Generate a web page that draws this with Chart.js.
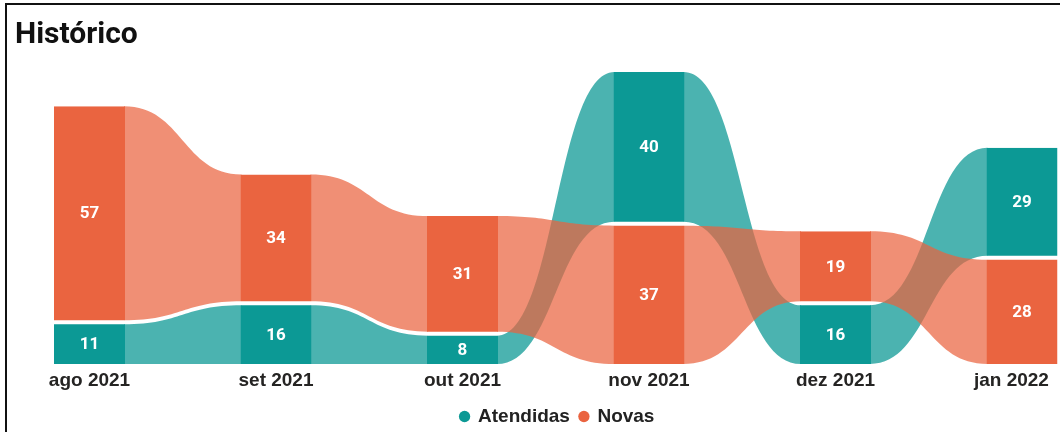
<!DOCTYPE html>
<html><head><meta charset="utf-8">
<script src="https://cdn.jsdelivr.net/npm/chart.js@4/dist/chart.umd.min.js"></script>
<style>
html,body{margin:0;padding:0;background:#fff;}
#wrap{position:relative;width:1060px;height:432px;overflow:hidden;}
#frame{position:absolute;left:5px;top:3px;width:1100px;height:500px;border-top:2px solid #111;border-left:2px solid #111;pointer-events:none;}
canvas{position:absolute;left:0;top:0;}
</style></head><body>
<div id="wrap"><canvas id="c" width="1060" height="432"></canvas><div id="frame"></div></div>
<script>
const categories = ['ago 2021','set 2021','out 2021','nov 2021','dez 2021','jan 2022'];
const atendidas = [11, 16, 8, 40, 16, 29];
const novas = [57, 34, 31, 37, 19, 28];
const seriesNames = ['Atendidas', 'Novas'];
const barColors = ['#0C9995', '#EA6440'];
const ribbonColors = ['rgba(12,153,149,0.74)', 'rgba(234,100,64,0.72)'];
const GAP = 4;

const seriesValues = [atendidas, novas];
const totals = categories.map((_, i) => seriesValues.reduce((s, v) => s + v[i], 0));
const maxTotal = Math.max(...totals);
// ribbon ranking: larger value stacked on top
const ranges = seriesValues.map(() => []);
categories.forEach((_, i) => {
  const order = seriesValues.map((v, s) => s).sort((a, b) => seriesValues[a][i] - seriesValues[b][i]);
  let base = 0;
  order.forEach(s => { const v = seriesValues[s][i]; ranges[s][i] = [base, base + v]; base += v; });
});

function edges(s, i, yScale) {
  const r = ranges[s][i];
  const top = yScale.getPixelForValue(r[1]) + (r[1] < totals[i] ? GAP / 2 : 0);
  const bot = yScale.getPixelForValue(r[0]) - (r[0] > 0 ? GAP / 2 : 0);
  return [top, bot];
}

const ribbonPlugin = {
  id: 'ribbons',
  afterLayout(chart) {
    if (chart.legend) { chart.legend.left += 40; }
  },
  beforeDatasetsDraw(chart) {
    const ctx = chart.ctx, y = chart.scales.y;
    seriesNames.forEach((_, s) => {
      const meta = chart.getDatasetMeta(s);
      ctx.save();
      ctx.fillStyle = ribbonColors[s];
      for (let i = 0; i < categories.length - 1; i++) {
        const a = meta.data[i], b = meta.data[i + 1];
        const x0 = a.x + a.width / 2 - 1, x1 = b.x - b.width / 2 + 1, xm = (x0 + x1) / 2;
        const [t0, b0] = edges(s, i, y), [t1, b1] = edges(s, i + 1, y);
        ctx.beginPath();
        ctx.moveTo(x0, t0);
        ctx.bezierCurveTo(xm, t0, xm, t1, x1, t1);
        ctx.lineTo(x1, b1);
        ctx.bezierCurveTo(xm, b1, xm, b0, x0, b0);
        ctx.closePath();
        ctx.fill();
      }
      ctx.restore();
    });
  },
  afterDatasetsDraw(chart) {
    const ctx = chart.ctx, y = chart.scales.y;
    ctx.save();
    ctx.font = 'bold 17px Roboto';
    ctx.fillStyle = '#ffffff';
    ctx.textAlign = 'center';
    ctx.textBaseline = 'middle';
    seriesNames.forEach((_, s) => {
      const meta = chart.getDatasetMeta(s);
      meta.data.forEach((el, i) => {
        const [t, b] = edges(s, i, y);
        ctx.fillText(String(seriesValues[s][i]), el.x, (t + b) / 2 + 1);
      });
    });
    ctx.restore();
  }
};

new Chart(document.getElementById('c'), {
  type: 'bar',
  data: {
    labels: categories,
    datasets: seriesNames.map((name, s) => ({
      label: name,
      data: ranges[s],
      backgroundColor: barColors[s],
      borderColor: '#ffffff',
      borderSkipped: false,
      borderWidth: (c) => {
        if (c.dataIndex === undefined) return 0;
        const r = ranges[s][c.dataIndex];
        return {top: r[1] < totals[c.dataIndex] ? GAP / 2 : 0, bottom: r[0] > 0 ? GAP / 2 : 0, left: 0, right: 0};
      },
      barThickness: 71,
      grouped: false,
      clip: false,
      inflateAmount: 0
    }))
  },
  options: {
    responsive: false,
    animation: false,
    events: [],
    layout: {padding: {left: 15, right: 0, top: 7, bottom: -4}},
    plugins: {
      title: {
        display: true, text: 'Histórico', align: 'start', color: '#111111',
        font: {family: 'Roboto', weight: 'bold', size: 30},
        padding: {top: 10, bottom: 19}
      },
      legend: {
        position: 'bottom',
        labels: {
          usePointStyle: true, boxWidth: 8, boxHeight: 8, padding: 10,
          color: '#222222',
          font: {family: 'Liberation Sans', weight: 'bold', size: 19},
          generateLabels: (chart) => chart.data.datasets.map((d, i) => ({
            text: d.label, fillStyle: barColors[i], strokeStyle: barColors[i], lineWidth: 0,
            pointStyle: 'circle', datasetIndex: i, hidden: false, fontColor: '#222222'
          }))
        }
      },
      tooltip: {enabled: false}
    },
    scales: {
      x: {
        offset: false,
        grid: {display: false, drawTicks: false},
        border: {display: false},
        ticks: {
          color: '#252423', font: {family: 'Liberation Sans', weight: 'bold', size: 19, lineHeight: 1.0},
          padding: 7, maxRotation: 0, autoSkip: false,
          // last label kept inside the canvas, as in the original
          callback: (v, i) => i === categories.length - 1 ? categories[i] + '    ' : categories[i]
        },
        afterFit: (sc) => { sc.paddingRight = 38; }
      },
      y: {
        min: 0, max: maxTotal,
        grid: {display: false, drawTicks: false},
        border: {display: false},
        ticks: {display: false},
        afterFit: (sc) => { sc.width = 74.5; }
      }
    }
  },
  plugins: [ribbonPlugin]
});
</script>
</body></html>
